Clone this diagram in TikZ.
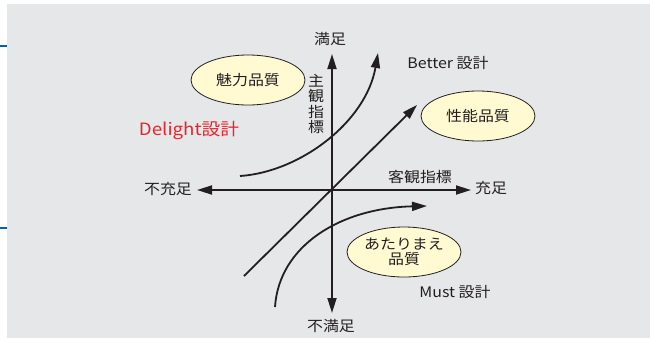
\documentclass[tikz,border=0pt]{standalone}
\usepackage{fontspec}
\setmainfont{Noto Sans CJK JP}[FakeStretch=1.1]
\usetikzlibrary{arrows.meta,shapes.geometric}
\definecolor{bggray}{HTML}{E6E7E8}
\definecolor{ink}{HTML}{231F20}
\definecolor{ellfill}{HTML}{FFFAD2}
\definecolor{delred}{HTML}{E8242D}
\definecolor{tickblue}{HTML}{0060B0}
\begin{document}
\begin{tikzpicture}[x=1pt,y=-1pt,
  lbl/.style={font=\fontsize{14.5}{16}\selectfont, text=ink, inner sep=0pt},
  quality/.style={ellipse, draw=ink, line width=0.8pt, fill=ellfill,
    minimum width=114pt, minimum height=50pt, inner sep=0pt,
    font=\fontsize{14.5}{17}\selectfont, text=ink, align=center},
  arr/.style={draw=ink, line width=1.8pt, -{Triangle[length=15pt,width=9pt]}},
  plain/.style={draw=ink, line width=1.8pt}]
\useasboundingbox (0,0) rectangle (650,338);
\fill[bggray] (7,4) rectangle (650,338);
\coordinate (b1s) at (0,45.5); \coordinate (b1e) at (7,45.5);
\coordinate (b2s) at (0,227.7); \coordinate (b2e) at (7,227.7);
\draw[tickblue, line width=2pt] (b1s) -- (b1e);
\draw[tickblue, line width=2pt] (b2s) -- (b2e);
% axes
\coordinate (O) at (332,190);
\coordinate (top) at (332,54);
\coordinate (bot) at (332,313);
\coordinate (left) at (197,190);
\coordinate (right) at (471,190);
\draw[arr] (O) -- (top);
\draw[arr] (O) -- (bot);
\draw[arr] (O) -- (left);
\draw[arr] (O) -- (right);
% labels
\node[lbl] (sat) at (330,39) {満足};
\node[lbl] (unsat) at (331,326) {不満足};
\node[lbl] (unful) at (168,189) {不充足};
\node[lbl] (ful) at (491,188) {充足};
\node[lbl] (objidx) at (420,177) {客観指標};
\node[lbl, align=center, font=\fontsize{14.5}{15.5}\selectfont] (subjidx) at (316,104) {主\\観\\指\\標};
\node[lbl] (better) at (448,63) {Better 設計};
\node[lbl] (must) at (455,292) {Must 設計};
\node[lbl, text=delred, font=\fontsize{17}{19}\selectfont] (delight) at (189,131) {Delight設計};
% ellipses
\node[quality] (miryoku) at (248,80) {魅力品質};
\node[quality] (seino) at (478,116) {性能品質};
\node[quality] (atari) at (404,252) {あたりまえ\\[-2pt]品質};
% curves
\coordinate (d0) at (240,176); \coordinate (d1) at (378,53);
\draw[arr] (d0) .. controls (300,172) and (366,122) .. (d1);
\coordinate (s0) at (244,276); \coordinate (s1) at (417,105);
\draw[arr] (s0) -- (s1);
\coordinate (m0) at (275,307); \coordinate (m1) at (427,206);
\draw[arr] (m0) .. controls (279,246) and (340,208) .. (m1);
\end{tikzpicture}
\end{document}
